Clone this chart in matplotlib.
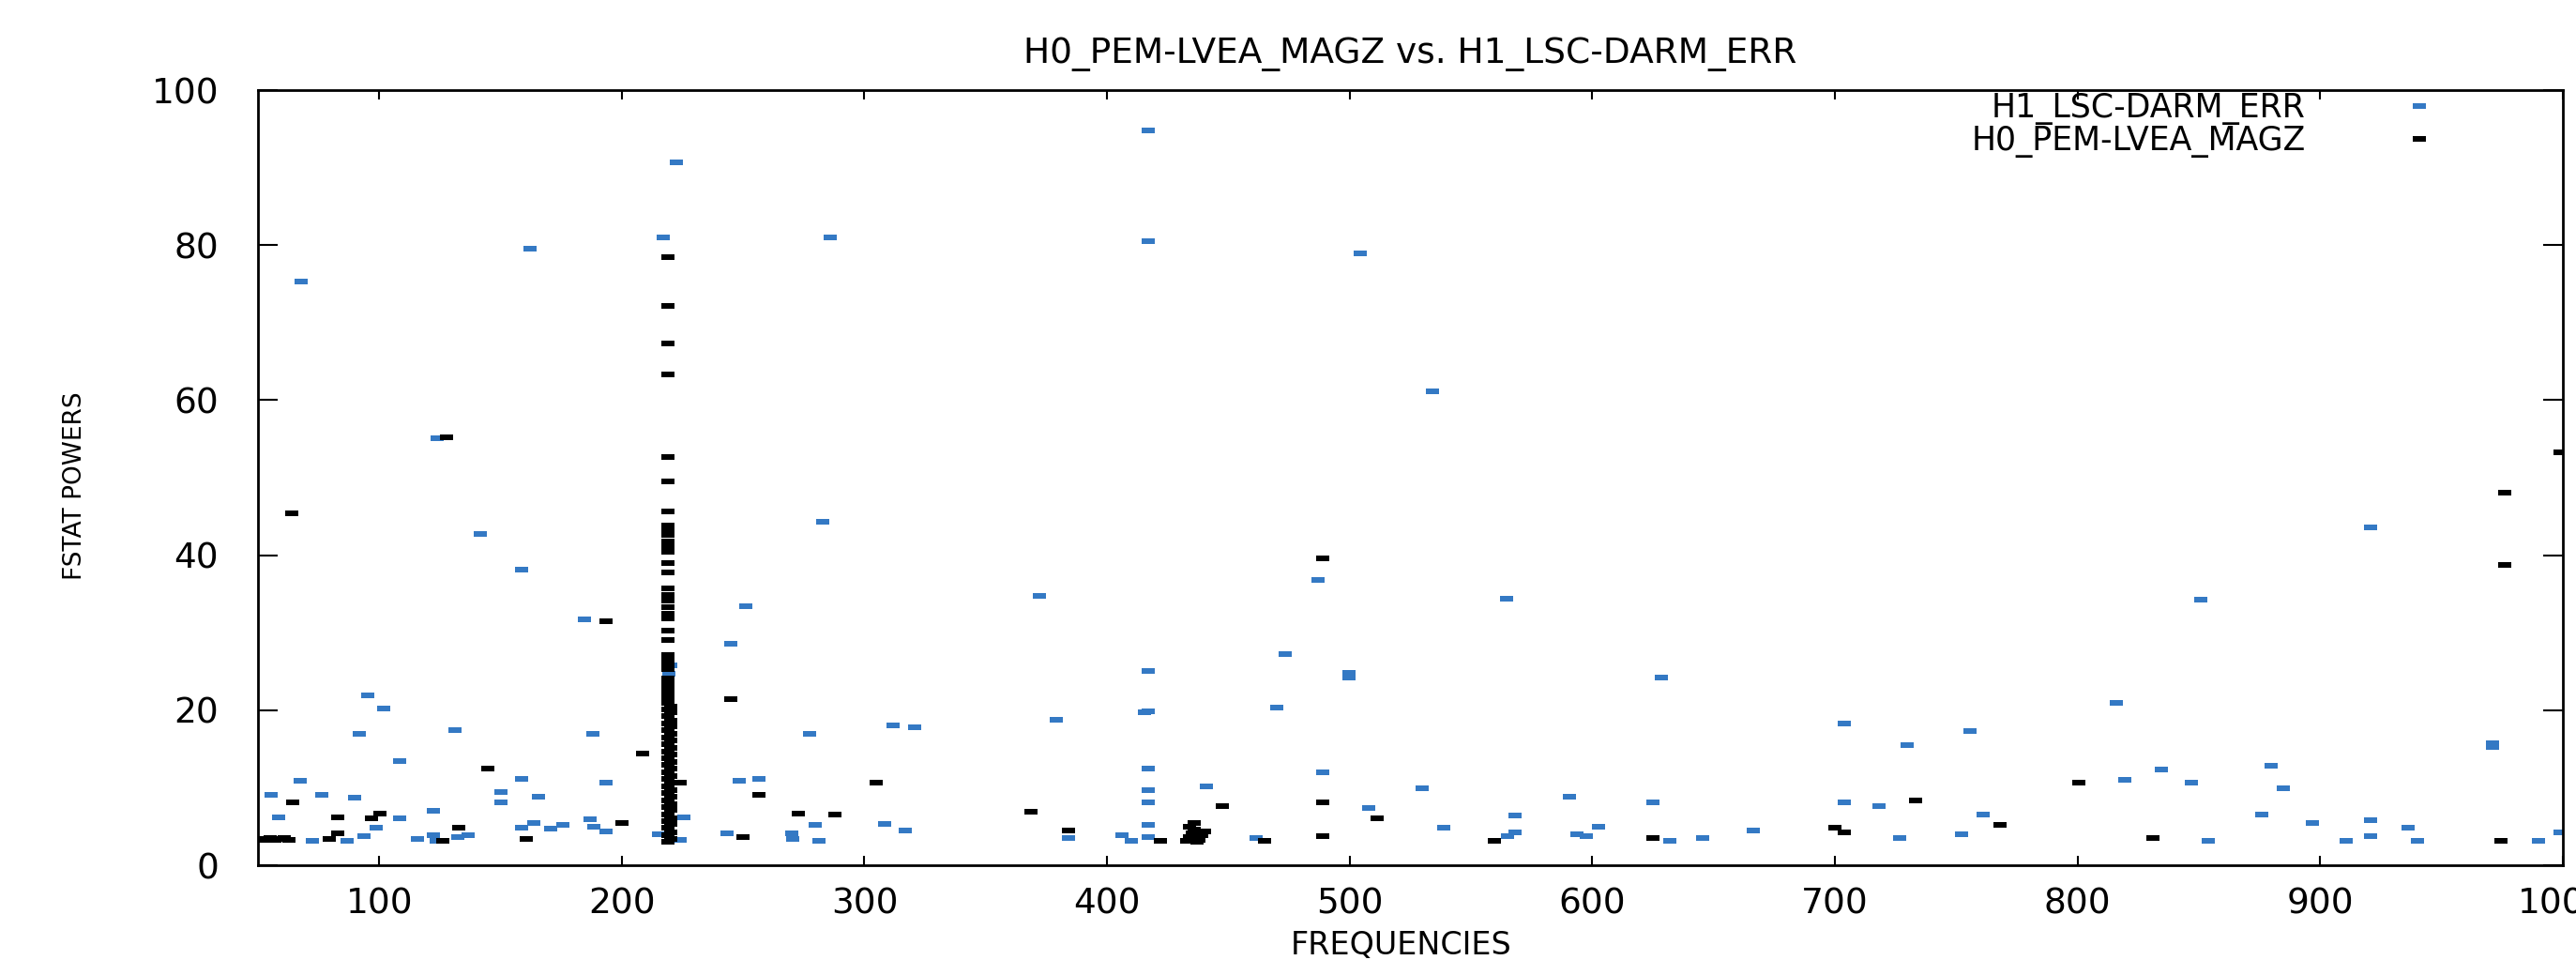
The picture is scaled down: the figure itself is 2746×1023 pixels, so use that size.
import numpy as np
import matplotlib
matplotlib.use("Agg")
import matplotlib.pyplot as plt

# H1_LSC-DARM_ERR points (frequency, fstat power)
h1_points = [(55.4, 9.1), (58.7, 6.2), (67.4, 10.9), (67.8, 75.3), (72.5, 3.1), (76.2, 9.1),
             (86.9, 3.1), (89.8, 8.7), (91.8, 16.9), (95.1, 21.9), (93.6, 3.7), (98.7, 4.9),
             (101.8, 20.2), (108.6, 13.5), (108.6, 6.0), (115.8, 3.4), (122.4, 7.0), (122.4, 3.9),
             (123.5, 3.2), (124.0, 55.1), (131.3, 17.4), (132.4, 3.6), (136.8, 3.9), (141.5, 42.8),
             (150.2, 9.4), (150.2, 8.1), (158.6, 11.1), (158.6, 4.9), (158.7, 38.1), (162.0, 79.5),
             (163.9, 5.4), (165.7, 8.9), (170.6, 4.7), (175.7, 5.2), (184.6, 31.7), (187.9, 16.9),
             (186.8, 5.9), (188.6, 5.0), (193.5, 4.4), (193.5, 10.7), (215.0, 4.0), (217.2, 81.0),
             (219.5, 24.7), (220.0, 25.8), (222.5, 90.7), (223.9, 3.3), (225.6, 6.2), (243.4, 4.1),
             (245.0, 28.6), (248.3, 10.9), (251.0, 33.4), (256.7, 11.1), (270.0, 4.1), (270.5, 3.4),
             (277.4, 16.9), (279.6, 5.2), (281.1, 3.1), (282.8, 44.3), (286.0, 81.0), (308.2, 5.3),
             (311.9, 18.0), (316.8, 4.5), (320.5, 17.8), (372.3, 34.7), (379.0, 18.8), (384.0, 3.5),
             (406.3, 3.9), (409.9, 3.2), (415.5, 19.7), (417.0, 94.8), (417.0, 80.5), (417.0, 25.1),
             (417.0, 19.9), (417.0, 12.5), (417.0, 9.7), (417.0, 8.1), (417.0, 5.2), (417.0, 3.6),
             (440.8, 10.2), (461.3, 3.5), (470.0, 20.3), (473.4, 27.2), (487.1, 36.8), (489.0, 12.0),
             (499.6, 24.2), (499.8, 24.8), (504.5, 78.9), (507.8, 7.4), (530.0, 9.9), (534.0, 61.2),
             (538.9, 4.8), (564.6, 34.4), (565.0, 3.7), (568.2, 6.4), (568.2, 4.2), (590.6, 8.9),
             (593.6, 4.0), (597.5, 3.7), (602.7, 5.0), (624.8, 8.1), (628.4, 24.2), (632.0, 3.2),
             (645.5, 3.5), (666.2, 4.5), (704.0, 18.3), (704.0, 8.1), (718.0, 7.6), (726.6, 3.5),
             (729.9, 15.5), (752.0, 4.0), (755.5, 17.3), (761.0, 6.6), (816.0, 20.9), (819.4, 11.0),
             (834.7, 12.3), (846.9, 10.7), (850.6, 34.3), (853.8, 3.2), (876.0, 6.6), (879.6, 12.8),
             (884.9, 9.9), (896.8, 5.5), (910.5, 3.2), (920.7, 5.8), (920.7, 3.7), (920.9, 43.6),
             (936.4, 4.8), (940.0, 3.2), (970.9, 15.3), (971.0, 15.7), (989.8, 3.2), (999.0, 4.3)]

# H0_PEM-LVEA_MAGZ points away from the 219 Hz line
h0_points = [(51.0, 3.4), (53.0, 3.3), (55.0, 3.5), (57.0, 3.3), (59.0, 3.4), (61.0, 3.5),
             (63.0, 3.3), (64.0, 45.4), (64.2, 8.1), (79.6, 3.4), (83.1, 6.2), (83.1, 4.1),
             (96.9, 6.0), (100.4, 6.7), (126.4, 3.1), (127.7, 55.2), (132.8, 4.9), (144.7, 12.5),
             (160.6, 3.4), (193.5, 31.5), (200.1, 5.4), (208.5, 14.4), (223.9, 10.7), (245.0, 21.4),
             (250.0, 3.6), (256.7, 9.1), (272.7, 6.7), (287.8, 6.5), (305.0, 10.7), (368.6, 6.9),
             (384.0, 4.5), (421.8, 3.2), (433.0, 3.2), (434.0, 3.6), (435.0, 4.1), (436.0, 4.6),
             (434.0, 5.0), (436.0, 5.5), (438.0, 3.3), (439.0, 3.9), (440.0, 4.4), (437.0, 3.0),
             (447.5, 7.6), (465.0, 3.2), (489.0, 39.6), (489.0, 8.1), (489.0, 3.7), (511.3, 6.0),
             (559.6, 3.2), (624.8, 3.5), (700.0, 4.8), (704.0, 4.3), (733.2, 8.4), (768.0, 5.2),
             (800.5, 10.7), (831.2, 3.5), (974.6, 3.2), (976.0, 48.1), (976.0, 38.8), (999.0, 53.3)]

# H0 points stacked on the 219 Hz line
h0_line_points = [(219.0, 3.0), (220.0, 3.4), (219.0, 3.9), (220.0, 4.3), (219.0, 4.8), (220.0, 5.3),
                  (219.0, 5.7), (220.0, 6.1), (219.0, 6.6), (220.0, 7.1), (219.0, 7.5), (220.0, 7.9),
                  (219.0, 8.4), (220.0, 8.9), (219.0, 9.3), (220.0, 9.7), (219.0, 10.2), (220.0, 10.7),
                  (219.0, 11.1), (220.0, 11.5), (219.0, 12.0), (220.0, 12.5), (219.0, 12.9), (220.0, 13.3),
                  (219.0, 13.8), (220.0, 14.3), (219.0, 14.7), (220.0, 15.1), (219.0, 15.6), (220.0, 16.1),
                  (219.0, 16.5), (220.0, 16.9), (219.0, 17.4), (220.0, 17.9), (219.0, 18.3), (220.0, 18.7),
                  (219.0, 19.2), (220.0, 19.7), (219.0, 20.1), (220.0, 20.5), (219.0, 21.0), (219.0, 21.4),
                  (219.0, 21.9), (219.0, 22.4), (219.0, 22.8), (219.0, 23.5), (219.0, 24.1), (219.0, 25.3),
                  (219.0, 25.9), (219.0, 26.6), (219.0, 27.1), (219.0, 29.0), (219.0, 30.3), (219.0, 31.9),
                  (219.0, 32.5), (219.0, 33.3), (219.0, 34.1), (219.0, 34.9), (219.0, 35.7), (219.0, 37.8),
                  (219.0, 39.0), (219.0, 40.4), (219.0, 41.2), (219.0, 41.8), (219.0, 42.6), (219.0, 43.2),
                  (219.0, 43.8), (219.0, 45.6), (219.0, 49.5), (219.0, 52.7), (219.0, 63.3), (219.0, 67.3),
                  (219.0, 72.2), (219.0, 78.4)]

x_ticks = [100, 200, 300, 400, 500, 600, 700, 800, 900, 1000]
y_ticks = [0, 20, 40, 60, 80, 100]

h1_freq, h1_power = zip(*h1_points)
h0_freq, h0_power = zip(*(h0_points + h0_line_points))

# gnuplot-like flat rectangle point
rect = [(-1.3, -0.5), (1.3, -0.5), (1.3, 0.5), (-1.3, 0.5), (-1.3, -0.5)]
blue = '#3479c4'

fig = plt.figure(figsize=(27.46, 10.23), dpi=100)
ax = fig.add_axes([0.1001, 0.0987, 0.8948, 0.8074])

ax.plot(h1_freq, h1_power, linestyle='none', marker=rect, markersize=10,
        markeredgewidth=0, color=blue, label='H1_LSC-DARM_ERR')
ax.plot(h0_freq, h0_power, linestyle='none', marker=rect, markersize=10,
        markeredgewidth=0, color='black', label='H0_PEM-LVEA_MAGZ')

ax.set_xlim(50, 1000)
ax.set_ylim(0, 100)
ax.set_xticks(x_ticks)
ax.set_yticks(y_ticks)
ax.set_xticklabels([str(t) for t in x_ticks])
ax.set_yticklabels([str(t) for t in y_ticks])
ax.tick_params(axis='x', direction='in', length=7.2, width=1.5, top=True,
               labelsize=27, pad=17)
ax.tick_params(axis='y', direction='in', length=15, width=1.5, right=True,
               labelsize=27, pad=30)
for s in ax.spines.values():
    s.set_linewidth(2.0)

ax.set_title('H0_PEM-LVEA_MAGZ vs. H1_LSC-DARM_ERR', fontsize=27, pad=21)
ax.set_xlabel('FREQUENCIES', fontsize=24)
ax.xaxis.set_label_coords(0.496, -0.084)
ax.set_ylabel('FSTAT POWERS', fontsize=19)
ax.yaxis.set_label_coords(-0.074, 0.49)

leg = ax.legend(loc='upper right', bbox_to_anchor=(0.952, 0.998), frameon=False,
                markerfirst=False, numpoints=1, handlelength=2, handletextpad=2.5,
                borderpad=0, borderaxespad=0, labelspacing=0.0,
                prop={'family': 'DejaVu Sans', 'size': 25})

plt.savefig('out.png', dpi=100)
